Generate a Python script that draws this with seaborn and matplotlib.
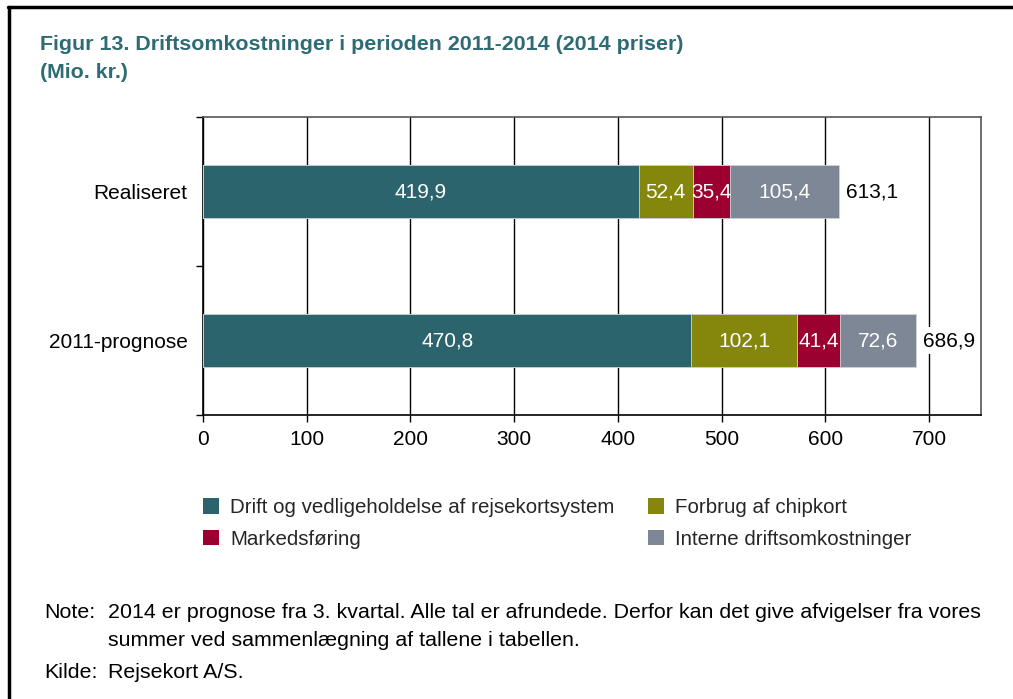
import numpy as np
import pandas as pd
import matplotlib
matplotlib.use("Agg")
import matplotlib.pyplot as plt
import seaborn as sns
from matplotlib.patches import Patch
from matplotlib.lines import Line2D

categories = ["Realiseret", "2011-prognose"]
series_names = ["Drift og vedligeholdelse af rejsekortsystem", "Forbrug af chipkort",
                "Markedsføring", "Interne driftsomkostninger"]
drift = [419.9, 470.8]
chipkort = [52.4, 102.1]
marked = [35.4, 41.4]
interne = [105.4, 72.6]
totals = [613.1, 686.9]
colors = ["#2C646E", "#84870B", "#9B0030", "#7E8795"]

sns.set_theme(style="white")
plt.rcParams['font.family'] = ['Liberation Sans', 'DejaVu Sans']
FS = 15

df = pd.DataFrame({"kategori": categories, series_names[0]: drift, series_names[1]: chipkort,
                   series_names[2]: marked, series_names[3]: interne})
vals = df[series_names].to_numpy()
cum = np.cumsum(vals, axis=1)

fig = plt.figure(figsize=(10.13, 6.99), dpi=100)
ax = fig.add_axes([0.2004, 0.4063, 0.768, 0.4263])

# stacked bars: draw cumulative sums back to front
for k in range(len(series_names) - 1, -1, -1):
    tmp = pd.DataFrame({"kategori": categories, "v": cum[:, k]})
    sns.barplot(data=tmp, x="v", y="kategori", orient="h", color=colors[k], saturation=1,
                width=0.35, edgecolor="#d0d4da", linewidth=0.6, ax=ax, zorder=3)

# segment labels
for i in range(len(categories)):
    for k in range(len(series_names)):
        start = cum[i, k] - vals[i, k]
        ax.text(start + vals[i, k] / 2, i, f"{vals[i, k]:.1f}".replace(".", ","),
                ha="center", va="center", color="white", fontsize=FS, zorder=5)
    ax.text(totals[i] + 32, i, f"{totals[i]:.1f}".replace(".", ","), ha="center", va="center",
            color="black", fontsize=FS, zorder=5,
            bbox=dict(boxstyle="square,pad=0.2", fc="white", ec="none"))

ax.set_xlim(0, 750)
ax.set_ylim(1.5, -0.5)
ax.set_xticks(np.arange(0, 701, 100))
ax.set_xticklabels([str(v) for v in range(0, 701, 100)], fontsize=FS)
ax.set_yticks([0, 1])
ax.set_yticklabels(categories, fontsize=FS)
ax.set_yticks([-0.5, 0.5, 1.5], minor=True)
ax.tick_params(axis="y", which="major", length=0, pad=11, colors="black")
ax.tick_params(axis="y", which="minor", length=5, width=1, color="black", direction="out", left=True)
ax.tick_params(axis="x", length=5, width=1, color="black", direction="out", bottom=True, pad=6,
               labelcolor="black")
ax.set_xlabel("")
ax.set_ylabel("")
ax.grid(axis="x", color="black", linewidth=1, zorder=0)
ax.set_axisbelow(True)
for s in ["left", "bottom"]:
    ax.spines[s].set_color("black")
    ax.spines[s].set_linewidth(1.2)
for s in ["top", "right"]:
    ax.spines[s].set_color("#555555")
    ax.spines[s].set_linewidth(1.2)
    ax.spines[s].set_visible(True)

handles = [Patch(facecolor=c, edgecolor="none") for c in colors]
order = [0, 2, 1, 3]
fig.legend([handles[j] for j in order], [series_names[j] for j in order],
           ncol=2, loc="upper left", bbox_to_anchor=(203 / 1013, 1 - 498 / 699), frameon=False,
           fontsize=14.8, handlelength=0.78, handleheight=0.78, handletextpad=0.55,
           columnspacing=1.6, labelspacing=0.62, borderaxespad=0, borderpad=0)

title_color = "#2E6B74"
fig.text(0.0395, 1 - 45 / 699, "Figur 13. Driftsomkostninger i perioden 2011-2014 (2014 priser)",
         ha="left", va="center", fontsize=15.4, fontweight="bold", color=title_color)
fig.text(0.0395, 1 - 72 / 699, "(Mio. kr.)",
         ha="left", va="center", fontsize=15.4, fontweight="bold", color=title_color)

NFS = 15.4
fig.text(44 / 1013, 1 - 612 / 699, "Note:", ha="left", va="center", fontsize=NFS, color="black")
fig.text(108 / 1013, 1 - 612 / 699,
         "2014 er prognose fra 3. kvartal. Alle tal er afrundede. Derfor kan det give afvigelser fra vores",
         ha="left", va="center", fontsize=NFS, color="black")
fig.text(108 / 1013, 1 - 640 / 699, "summer ved sammenlægning af tallene i tabellen.",
         ha="left", va="center", fontsize=NFS, color="black")
fig.text(44 / 1013, 1 - 673 / 699, "Kilde:", ha="left", va="center", fontsize=NFS, color="black")
fig.text(108 / 1013, 1 - 673 / 699, "Rejsekort A/S.", ha="left", va="center", fontsize=NFS, color="black")

# outer frame (top and left only)
fig.add_artist(Line2D([8 / 1013, 1], [1 - 7 / 699, 1 - 7 / 699], transform=fig.transFigure,
                      color="black", linewidth=2.5))
fig.add_artist(Line2D([9 / 1013, 9 / 1013], [0, 1 - 7 / 699], transform=fig.transFigure,
                      color="black", linewidth=2.5))

fig.savefig("out.png", dpi=100)
